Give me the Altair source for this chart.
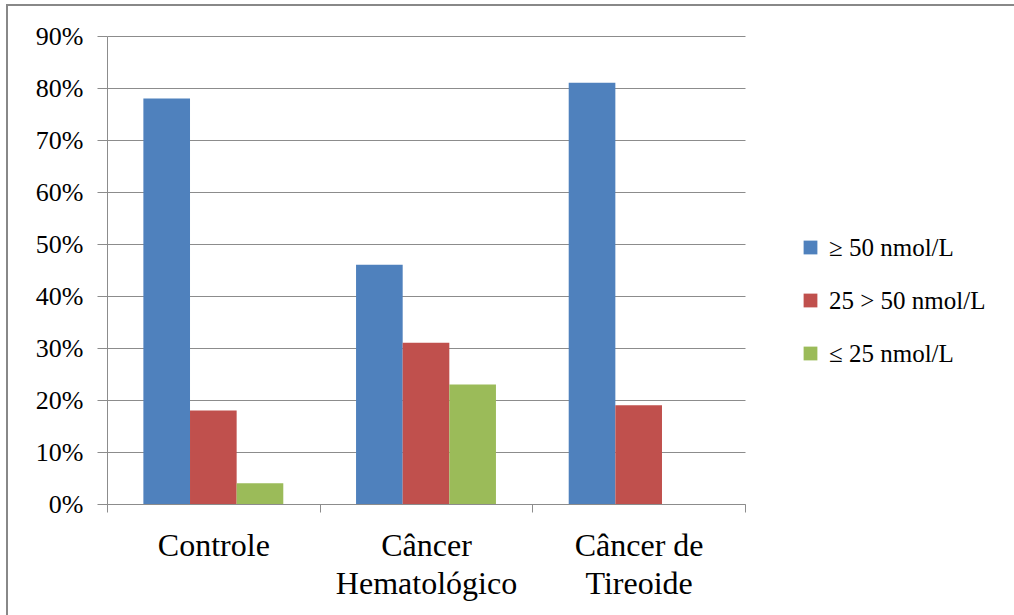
import altair as alt
import pandas as pd

categories = ["Controle", "Câncer Hematológico", "Câncer de Tireoide"]
series = ["≥ 50 nmol/L", "25 > 50 nmol/L", "≤ 25 nmol/L"]
values_ge50 = [78, 46, 81]
values_25_50 = [18, 31, 19]
values_le25 = [4, 23, 0]
colors = ["#4F81BD", "#C0504D", "#9BBB59"]

rows = []
for s, vals in zip(series, [values_ge50, values_25_50, values_le25]):
    for c, v in zip(categories, vals):
        rows.append({"grupo": c, "serie": s, "valor": v / 100})
df = pd.DataFrame(rows)

FONT = "'Liberation Serif', 'Times New Roman', serif"
GRID = "#8C8C8C"

label_expr = ("datum.label == 'Câncer Hematológico' ? ['Câncer', 'Hematológico'] : "
              "datum.label == 'Câncer de Tireoide' ? ['Câncer de', 'Tireoide'] : datum.label")

bars = alt.Chart(df).mark_bar().encode(
    x=alt.X("grupo:N", sort=categories, title=None,
            scale=alt.Scale(paddingInner=0, paddingOuter=0),
            axis=alt.Axis(labelAngle=0, labelExpr=label_expr, labelFont=FONT,
                          labelFontSize=32, labelColor="black", labelLineHeight=38,
                          labelPadding=18, tickBand="extent", tickSize=8,
                          tickColor=GRID, domainColor=GRID, grid=False,
                          labelBaseline="top", labelLimit=400)),
    xOffset=alt.XOffset("serie:N", sort=series,
                        scale=alt.Scale(paddingInner=0, paddingOuter=0.78)),
    y=alt.Y("valor:Q", title=None,
            scale=alt.Scale(domain=[0, 0.9], nice=False),
            axis=alt.Axis(format=".0%", values=[i / 10 for i in range(10)],
                          labelFont=FONT, labelFontSize=26, labelColor="black",
                          tickSize=10, labelPadding=14, tickColor=GRID,
                          domainColor=GRID, gridColor=GRID, grid=True)),
    color=alt.Color("serie:N", sort=series,
                    scale=alt.Scale(domain=series, range=colors),
                    legend=alt.Legend(title=None, orient="none", legendX=691,
                                      legendY=199, symbolType="square",
                                      symbolSize=190, symbolStrokeWidth=0,
                                      labelFont=FONT, labelFontSize=25,
                                      labelColor="black", rowPadding=27,
                                      labelOffset=6, labelLimit=400)),
)

border = alt.Chart(pd.DataFrame({"a": [0]})).mark_rect(
    fillOpacity=0, stroke="#888888", strokeWidth=2
).encode(x=alt.value(-100), y=alt.value(-31), x2=alt.value(920), y2=alt.value(600))

chart = alt.layer(border, bars).properties(
    width=638, height=468,
    autosize=alt.AutoSizeParams(type="none"),
    padding={"left": 107, "top": 36, "right": 269, "bottom": 111},
    background="white",
).configure_view(stroke=None)

chart.save("out.html", embed_options={"renderer": "svg", "actions": False})
